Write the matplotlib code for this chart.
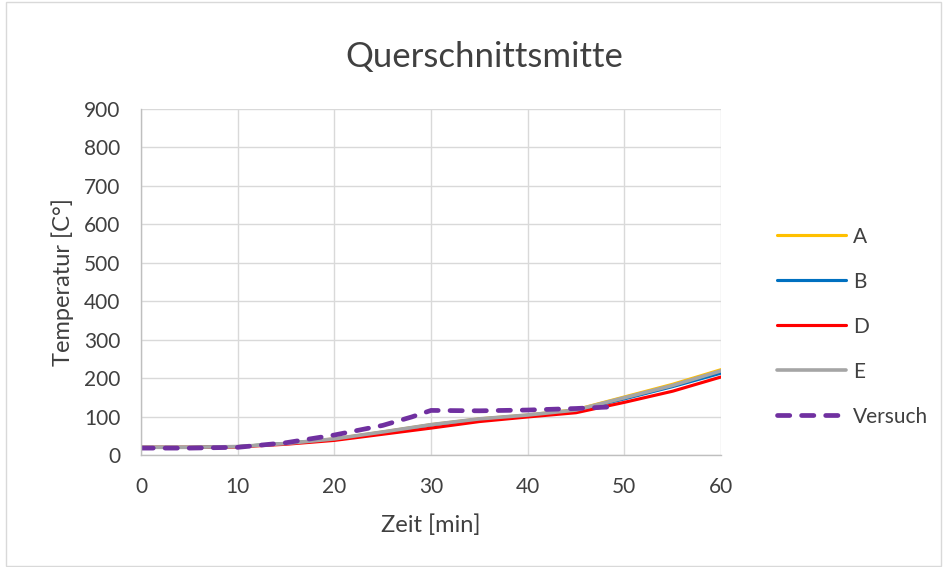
import matplotlib
matplotlib.use("Agg")
import matplotlib.pyplot as plt
from matplotlib.patches import Rectangle

plt.rcParams['font.family'] = ['Lato', 'DejaVu Sans']

t_sim = [0, 5, 10, 15, 20, 25, 30, 35, 40, 45, 50, 55, 60]
A = [20, 20, 22, 30, 42, 60, 79, 94, 104, 118, 151, 184, 222]
B = [20, 20, 22, 30, 41, 59, 78, 93, 103, 116, 146, 178, 213]
D = [20, 20, 21, 28, 38, 54, 70, 87, 99, 110, 137, 166, 203]
E = [20, 20, 22, 30, 42, 60, 79, 94, 104, 117, 149, 181, 219]
t_exp = [0, 5, 10, 15, 20, 25, 28, 30, 35, 40, 45, 48.5]
Versuch = [18, 18, 20, 32, 52, 77, 99, 116, 115, 117, 121, 125]

fig = plt.figure(figsize=(9.45, 5.67), dpi=100)
fig.patches.append(Rectangle((0.006, 0.002), 0.99, 0.994, transform=fig.transFigure,
                             fill=False, edgecolor='#d9d9d9', linewidth=1))
ax = fig.add_axes([0.1492, 0.1975, 0.6138, 0.6103])

ax.plot(t_sim, A, color='#FFC000', lw=2.25, label='A', solid_capstyle='round')
ax.plot(t_sim, B, color='#0070C0', lw=2.25, label='B', solid_capstyle='round')
ax.plot(t_sim, D, color='#FF0000', lw=2.25, label='D', solid_capstyle='round')
ax.plot(t_sim, E, color='#A5A5A5', lw=2.6, label='E', solid_capstyle='round')
ax.plot(t_exp, Versuch, color='#7030A0', lw=3.4, ls=(0, (2.6, 2.5)), label='Versuch',
        dash_capstyle='round')

ax.set_xlim(0, 60)
ax.set_ylim(0, 900)
ax.set_xticks(range(0, 61, 10))
ax.set_yticks(range(0, 901, 100))
ax.grid(True, color='#d9d9d9', lw=1)
ax.set_axisbelow(True)
for s in ['top', 'right']:
    ax.spines[s].set_visible(False)
for s in ['left', 'bottom']:
    ax.spines[s].set_color('#bfbfbf')
    ax.spines[s].set_linewidth(1)
ax.tick_params(length=0, labelsize=15, colors='#404040')
ax.tick_params(axis='y', pad=15)
ax.tick_params(axis='x', pad=16)

ax.set_xlabel('Zeit [min]', fontsize=17, color='#404040', labelpad=12)
ax.set_ylabel('Temperatur [C°]', fontsize=17, color='#404040', labelpad=7)
fig.text(0.512, 0.900, 'Querschnittsmitte', ha='center', va='center', fontsize=25, color='#404040')

ax.legend(loc='center left', bbox_to_anchor=(1.097, 0.371), frameon=False, fontsize=15,
          handlelength=3.3, handletextpad=0.35, labelspacing=1.2, labelcolor='#404040',
          borderpad=0, borderaxespad=0)

fig.savefig('out.png', dpi=100)
